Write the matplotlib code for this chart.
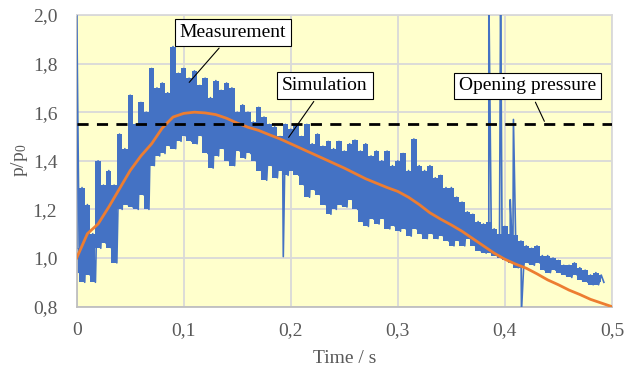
import matplotlib
matplotlib.use("Agg")
import matplotlib.pyplot as plt
import matplotlib.ticker as ticker
import numpy as np

# simulation (orange), every 0.01 s
sim_t = np.round(np.arange(0, 0.501, 0.01), 3)
sim_p = [1.00, 1.10, 1.14, 1.21, 1.285, 1.36, 1.42, 1.47, 1.535, 1.58,
         1.595, 1.60, 1.597, 1.59, 1.575, 1.555, 1.538, 1.525, 1.507, 1.49,
         1.47, 1.45, 1.43, 1.41, 1.39, 1.37, 1.348, 1.326, 1.308, 1.29,
         1.274, 1.25, 1.22, 1.186, 1.16, 1.136, 1.11, 1.08, 1.05, 1.02,
         0.995, 0.975, 0.958, 0.935, 0.91, 0.89, 0.868, 0.85, 0.83, 0.815,
         0.80]

# measurement band, read every 0.005 s (peaks / troughs)
env_t = np.round(np.arange(0, 0.4901, 0.005), 4)
meas_hi = [1.04, 1.29, 1.22, 1.10, 1.40, 1.30, 1.36, 1.30, 1.51, 1.45,
           1.67, 1.55, 1.64, 1.60, 1.78, 1.70, 1.72, 1.68, 1.87, 1.76,
           1.78, 1.74, 1.77, 1.71, 1.74, 1.66, 1.73, 1.69, 1.72, 1.70,
           1.60, 1.63, 1.60, 1.56, 1.62, 1.58, 1.55, 1.54, 1.50, 1.55,
           1.53, 1.55, 1.50, 1.55, 1.47, 1.51, 1.46, 1.48, 1.45, 1.48,
           1.44, 1.47, 1.485, 1.44, 1.47, 1.42, 1.44, 1.40, 1.44, 1.38,
           1.40, 1.43, 1.36, 1.49, 1.38, 1.36, 1.38, 1.33, 1.34, 1.29,
           1.29, 1.25, 1.23, 1.19, 1.18, 1.15, 1.14, 1.15, 1.12, 1.10,
           1.13, 1.10, 1.095, 1.07, 1.05, 1.04, 1.05, 1.01, 1.01, 1.00,
           0.99, 0.97, 0.97, 0.98, 0.96, 0.95, 0.93, 0.94, 0.93]
meas_lo = [0.94, 0.90, 0.93, 0.90, 1.04, 1.06, 1.04, 0.98, 1.20, 1.22,
           1.21, 1.20, 1.26, 1.20, 1.38, 1.42, 1.43, 1.46, 1.45, 1.48,
           1.50, 1.48, 1.47, 1.50, 1.43, 1.37, 1.42, 1.45, 1.40, 1.38,
           1.44, 1.41, 1.43, 1.40, 1.36, 1.32, 1.38, 1.33, 1.36, 1.34,
           1.36, 1.34, 1.30, 1.25, 1.28, 1.26, 1.22, 1.18, 1.20, 1.22,
           1.21, 1.24, 1.20, 1.15, 1.13, 1.16, 1.14, 1.16, 1.12, 1.13,
           1.11, 1.12, 1.09, 1.12, 1.10, 1.08, 1.10, 1.08, 1.09, 1.07,
           1.05, 1.07, 1.05, 1.08, 1.05, 1.03, 1.02, 1.02, 1.01, 1.00,
           0.99, 0.98, 0.96, 0.96, 0.98, 0.97, 0.98, 0.95, 0.94, 0.95,
           0.94, 0.93, 0.92, 0.93, 0.91, 0.90, 0.89, 0.89, 0.90]

# single-sample spikes in the measurement
spike_t = [0.0, 0.193, 0.385, 0.396, 0.405, 0.408, 0.4155]
spike_p = [2.05, 1.006, 2.10, 2.10, 1.24, 1.57, 0.78]

opening_p = 1.55

plt.rcParams['font.family'] = ['Liberation Serif', 'DejaVu Serif']
plt.rcParams['mathtext.fontset'] = 'custom'
plt.rcParams['mathtext.rm'] = 'Liberation Serif'
plt.rcParams['mathtext.it'] = 'Liberation Serif:italic'

t_all = np.concatenate([env_t, env_t + 0.0025, spike_t])
p_all = np.concatenate([meas_hi, meas_lo, spike_p])
order = np.argsort(t_all, kind='stable')

fig = plt.figure(figsize=(6.26, 3.69), dpi=100)
ax = fig.add_axes([0.1225, 0.169, 0.855, 0.7905])
ax.set_facecolor('#FFFFCC')

blue = '#4472C4'
ax.fill_between(env_t, meas_lo, meas_hi, step='mid', color=blue, lw=0, zorder=2)
ax.plot(t_all[order], p_all[order], color=blue, lw=1.2, zorder=3)
ax.plot(sim_t, sim_p, color='#ED7D31', lw=2, zorder=4)
ax.axhline(opening_p, color='black', lw=2, dashes=(4, 3), zorder=5)

ax.set_xlim(0, 0.5)
ax.set_ylim(0.8, 2.0)
ax.set_xticks(np.arange(0, 0.51, 0.1))
ax.set_yticks(np.arange(0.8, 2.01, 0.2))
ax.xaxis.set_major_formatter(ticker.FuncFormatter(
    lambda v, pos: '0' if abs(v) < 1e-9 else f'{v:.1f}'.replace('.', ',')))
ax.yaxis.set_major_formatter(ticker.FuncFormatter(
    lambda v, pos: f'{v:.1f}'.replace('.', ',')))
ax.tick_params(length=0, labelsize=14, colors='#595959')
ax.tick_params(axis='y', pad=14)
ax.tick_params(axis='x', pad=11)
ax.grid(color='#D9D9D9', lw=1.3, zorder=1)
ax.set_axisbelow(True)
for s in ax.spines.values():
    s.set_color('#D9D9D9')
    s.set_linewidth(1.3)
ax.spines['bottom'].set_color('#BFBFBF')
ax.spines['left'].set_color('#BFBFBF')

ax.set_xlabel('Time / s', fontsize=14, color='#595959', labelpad=8)
ax.set_ylabel('p/p$_0$', fontsize=14, color='#595959', labelpad=2)

box = dict(boxstyle='square,pad=0.25', fc='white', ec='black', lw=0.8)
arrow = dict(arrowstyle='-', color='black', lw=0.8)
ax.annotate('Measurement', xy=(0.1034, 1.714), xytext=(0.146, 1.929),
            ha='center', va='center', fontsize=14, bbox=box, arrowprops=arrow, zorder=6)
ax.annotate('Simulation', xy=(0.1965, 1.487), xytext=(0.232, 1.71),
            ha='center', va='center', fontsize=14, bbox=box, arrowprops=arrow, zorder=6)
ax.annotate('Opening pressure', xy=(0.438, 1.552), xytext=(0.4214, 1.708),
            ha='center', va='center', fontsize=14, bbox=box, arrowprops=arrow, zorder=6)

fig.savefig('out.png', dpi=100)
